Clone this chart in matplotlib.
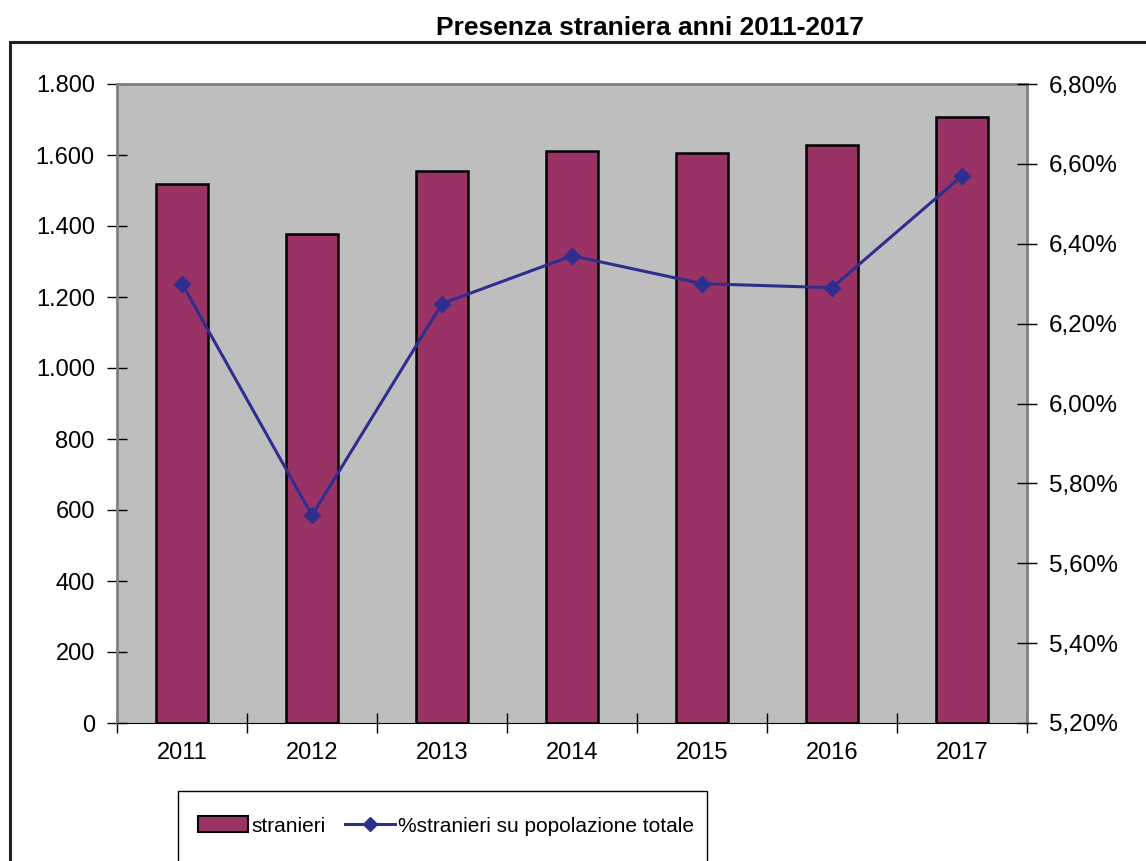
import matplotlib.pyplot as plt
import matplotlib.patches as mpatches
from matplotlib.lines import Line2D
from matplotlib.ticker import FuncFormatter, MultipleLocator

plt.rcParams['font.family'] = ['Liberation Sans', 'DejaVu Sans']

#%% dati
anni = ['2011', '2012', '2013', '2014', '2015', '2016', '2017']
stranieri = [1518, 1378, 1556, 1612, 1607, 1627, 1708]
perc_stranieri = [6.30, 5.72, 6.25, 6.37, 6.30, 6.29, 6.57]

col_bar = '#993366'
col_line = '#2E2E8E'
col_bg = '#BDBEBD'

#%% figura
W, H = 1146, 861
fig = plt.figure(figsize=(W / 100, H / 100), dpi=100)
ax = fig.add_axes([117 / W, 1 - 723 / H, (1027 - 117) / W, (723 - 84) / H])
ax.set_facecolor(col_bg)

x = range(len(anni))
ax.bar(x, stranieri, width=0.4, color=col_bar, edgecolor='black', linewidth=1.8, zorder=2)
ax.set_xlim(-0.5, len(anni) - 0.5)
ax.set_ylim(0, 1800)
ax.yaxis.set_major_locator(MultipleLocator(200))
ax.yaxis.set_major_formatter(FuncFormatter(lambda v, p: '{:,.0f}'.format(v).replace(',', '.')))
ax.set_xticks([i - 0.5 for i in range(len(anni) + 1)])
ax.set_xticklabels([])
ax.set_xticks(list(x), anni, minor=True)
ax.tick_params(axis='x', which='major', direction='inout', length=14, width=1, colors='black')
ax.tick_params(axis='x', which='minor', length=0, pad=14, labelsize=17)
ax.tick_params(axis='y', direction='inout', length=14, width=1, labelsize=17, pad=9)

for s in ['top', 'left', 'right']:
    ax.spines[s].set_color('#808080')
    ax.spines[s].set_linewidth(2)
ax.spines['bottom'].set_color('black')

ax2 = ax.twinx()
ax2.plot(x, perc_stranieri, color=col_line, lw=2.2, marker='D', markersize=8, zorder=3)
ax2.set_ylim(5.2, 6.8)
ax2.yaxis.set_major_locator(MultipleLocator(0.2))
ax2.yaxis.set_major_formatter(FuncFormatter(lambda v, p: ('%.2f%%' % v).replace('.', ',')))
ax2.tick_params(axis='y', direction='inout', length=14, width=1, labelsize=17.5, pad=9)
for s in ['top', 'left', 'right', 'bottom']:
    ax2.spines[s].set_visible(False)

#%% titolo e cornice
fig.text(650 / W, 1 - 28 / H, 'Presenza straniera anni 2011-2017', ha='center', va='center',
         fontsize=19, fontweight='bold')
fig.patches.append(mpatches.Rectangle((10 / W, -0.1), 1.2, 1.1 - 42 / H, transform=fig.transFigure,
                                      fill=False, edgecolor='#222222', lw=2.2, figure=fig))
fig.patches.append(mpatches.Rectangle((178 / W, -0.1), (707 - 178) / W, 0.1 + 1 - 791 / H,
                                      transform=fig.transFigure, fill=False, edgecolor='black',
                                      lw=1, figure=fig))

#%% legenda
handles = [mpatches.Patch(facecolor=col_bar, edgecolor='black', lw=1.5),
           Line2D([], [], color=col_line, lw=2.2, marker='D', markersize=7)]
fig.legend(handles, ['stranieri', '%stranieri su popolazione totale'], loc='center',
           bbox_to_anchor=(446 / W, 1 - 826 / H), ncol=2, frameon=False, fontsize=15,
           handlelength=2.4, handleheight=0.8, handletextpad=0.15, columnspacing=0.9)

fig.savefig('out.png', dpi=100)
